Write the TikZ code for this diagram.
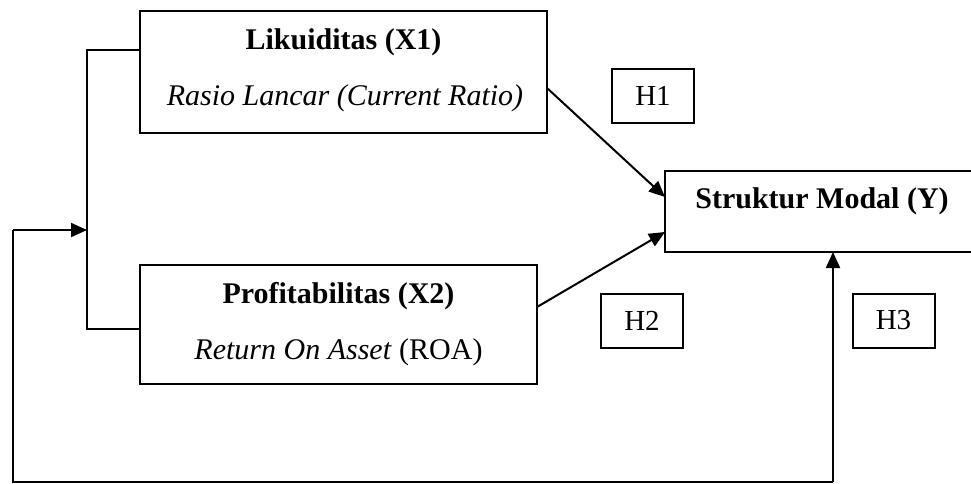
\documentclass[tikz,border=0pt]{standalone}
\usepackage{fontspec}
\setmainfont{Liberation Serif}
\usetikzlibrary{arrows.meta,calc}
\begin{document}
\begin{tikzpicture}[x=1pt,y=-1pt,
  box/.style={draw,line width=2pt,inner sep=0pt,outer sep=0pt},
  titletxt/.style={inner sep=0pt,anchor=base,font=\fontsize{30}{36}\selectfont\bfseries},
  subtxt/.style={inner sep=0pt,anchor=base,font=\fontsize{30}{36}\selectfont},
  hbox/.style={draw,line width=2pt,inner sep=0pt,outer sep=0pt,minimum width=82pt,minimum height=54pt,font=\fontsize{29}{34}\selectfont},
  conn/.style={line width=2pt},
  arr/.style={conn,-{Triangle[length=16pt,width=14pt]}}]
\useasboundingbox (0,0) rectangle (971,483);
% boxes
\node[box,minimum width=407pt,minimum height=122pt] (b1) at (343.5,72) {};
\node[titletxt] (t1) at (343.5,49) {Likuiditas (X1)};
\node[subtxt] (s1) at (345,105) {\textit{Rasio Lancar (Current Ratio)}};
\node[box,minimum width=397pt,minimum height=119pt] (b2) at (338.5,324.5) {};
\node[titletxt] (t2) at (338.5,303) {Profitabilitas (X2)};
\node[subtxt] (s2) at (338.5,359) {\textit{Return On Asset} (ROA)};
\node[box,minimum width=315pt,minimum height=81pt] (y) at (822.5,211.5) {};
\node[titletxt] (ty) at (822,208) {Struktur Modal (Y)};
% hypothesis labels
\node[hbox] (h1) at (653,95.5) {H1};
\node[hbox] (h2) at (642,320.5) {H2};
\node[hbox] (h3) at (893.5,320.5) {H3};
% coordinates
\coordinate (j) at (87,230);
\coordinate (c1) at (13,230);
\coordinate (c2) at (13,482);
\coordinate (c3) at (833,482);
% connectors
\draw[conn] ($(b1.west)+(0,-22)$) -| (j |- b2.west) -- ++(0,4.5) -- ($(b2.west)+(0,4.5)$);
\draw[arr] ($(b1.east)+(0,16)$) -- ($(y.west)+(0,-14.5)$);
\draw[arr] ($(b2.east)+(0,-17.5)$) -- ($(y.west)+(0,20.5)$);
\draw[arr] (c3) -- (c3 |- y.south);
\draw[conn] (c3) -- (c2) -- (c1);
\draw[arr] (c1) -- (j);
\end{tikzpicture}
\end{document}
